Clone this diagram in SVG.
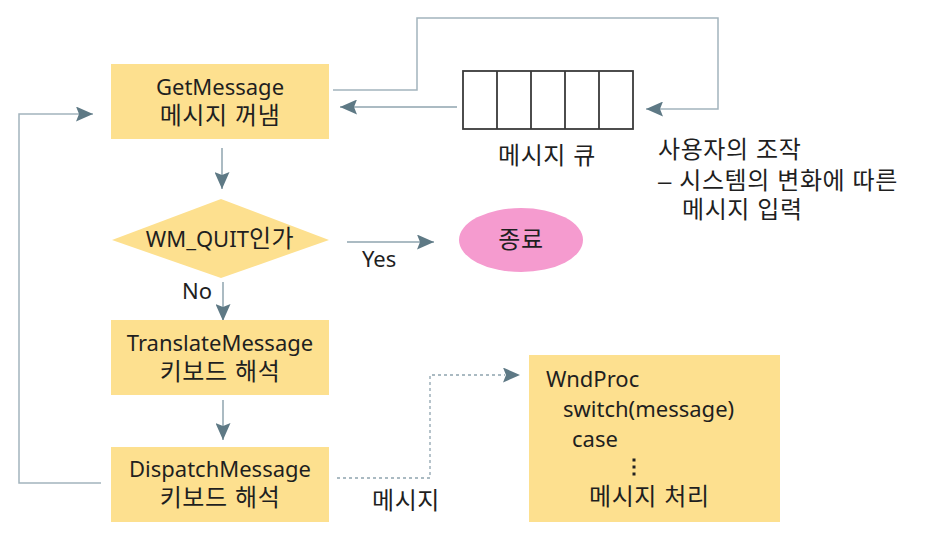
<svg xmlns="http://www.w3.org/2000/svg" width="925" height="544" viewBox="0 0 925 544">
<style>
  text { font-family: "Noto Sans", "Noto Sans CJK KR", sans-serif; font-size: 22px; fill: #1f1f1f; }
  .k { font-family: "Liberation Sans", "Noto Sans CJK KR", sans-serif; font-size: 24px; letter-spacing: 0.6px; }
  .c { text-anchor: middle; }
  .box { fill: #FDE08F; }
  .ln { fill: none; stroke: #8FA4AF; stroke-width: 1.5; }
  .fb { fill: none; stroke: #A3B4BD; stroke-width: 1.5; }
  .dot { fill: none; stroke: #8FA4AF; stroke-width: 1.3; stroke-dasharray: 3 3; }
</style>
<defs>
  <marker id="ah" viewBox="0 0 17 15" refX="17" refY="7.5" markerWidth="17" markerHeight="15" markerUnits="userSpaceOnUse" orient="auto">
    <path d="M0,0 L17,7.5 L0,15 L3,7.5 Z" fill="#5E7985"/>
  </marker>
</defs>
<rect width="925" height="544" fill="#ffffff"/>

<g id="connectors">
  <path class="fb" d="M333,90 H417 V18 H718 V109 H646" marker-end="url(#ah)"/>
  <path class="ln" d="M457,107 H340" marker-end="url(#ah)"/>
  <path class="ln" d="M222,148 V189" marker-end="url(#ah)"/>
  <path class="ln" d="M347,242 H434" marker-end="url(#ah)"/>
  <path class="ln" d="M223,282 V321" marker-end="url(#ah)"/>
  <path class="ln" d="M223,400 V440" marker-end="url(#ah)"/>
  <path class="fb" d="M101,483 H19 V114 H93" marker-end="url(#ah)"/>
  <path class="dot" d="M337,478 H430 V375 H505"/>
  <path d="M504,375 H520" style="stroke:none;fill:none" marker-end="url(#ah)"/>
  <text x="362" y="267">Yes</text>
  <text x="182" y="299">No</text>
  <text class="k" x="372" y="509">메시지</text>
</g>

<g id="getmessage">
  <rect class="box" x="111" y="64" width="218" height="75"/>
  <text class="c" x="220" y="95">GetMessage</text>
  <text class="c k" x="220" y="124">메시지 꺼냄</text>
</g>

<g id="queue">
  <rect x="463" y="71" width="170" height="58" fill="#ffffff" stroke="#3a3a3a" stroke-width="1.8"/>
  <path d="M497,71 V129 M531,71 V129 M565,71 V129 M599,71 V129" stroke="#3a3a3a" stroke-width="1.8" fill="none"/>
  <text class="c k" x="547" y="164">메시지 큐</text>
</g>

<g id="input-note">
  <text class="k" x="658" y="158">사용자의 조작</text>
  <text class="k" x="658" y="189">– 시스템의 변화에 따른</text>
  <text class="k" x="682" y="218">메시지 입력</text>
</g>

<g id="wmquit">
  <polygon class="box" points="221,199 329,240 221,278 112,240"/>
  <text class="c" x="220" y="247">WM_QUIT<tspan class="k" letter-spacing="0">인가</tspan></text>
</g>

<g id="end">
  <ellipse cx="521" cy="240" rx="62" ry="32" fill="#F59BCF"/>
  <text class="c k" x="521" y="248">종료</text>
</g>

<g id="translate">
  <rect class="box" x="111" y="320" width="218" height="75"/>
  <text class="c" x="220" y="351">TranslateMessage</text>
  <text class="c k" x="220" y="380">키보드 해석</text>
</g>

<g id="dispatch">
  <rect class="box" x="111" y="447" width="218" height="75"/>
  <text class="c" x="220" y="477">DispatchMessage</text>
  <text class="c k" x="220" y="506">키보드 해석</text>
</g>

<g id="wndproc">
  <rect class="box" x="529" y="355" width="251" height="167"/>
  <text x="546" y="387">WndProc</text>
  <text x="563" y="417">switch(message)</text>
  <text x="572" y="447">case</text>
  <g fill="#222">
    <rect x="632.5" y="458.5" width="3" height="3"/>
    <rect x="632.5" y="465.5" width="3" height="3"/>
    <rect x="632.5" y="472.5" width="3" height="3"/>
  </g>
  <text class="k" x="589" y="505">메시지 처리</text>
</g>
</svg>
